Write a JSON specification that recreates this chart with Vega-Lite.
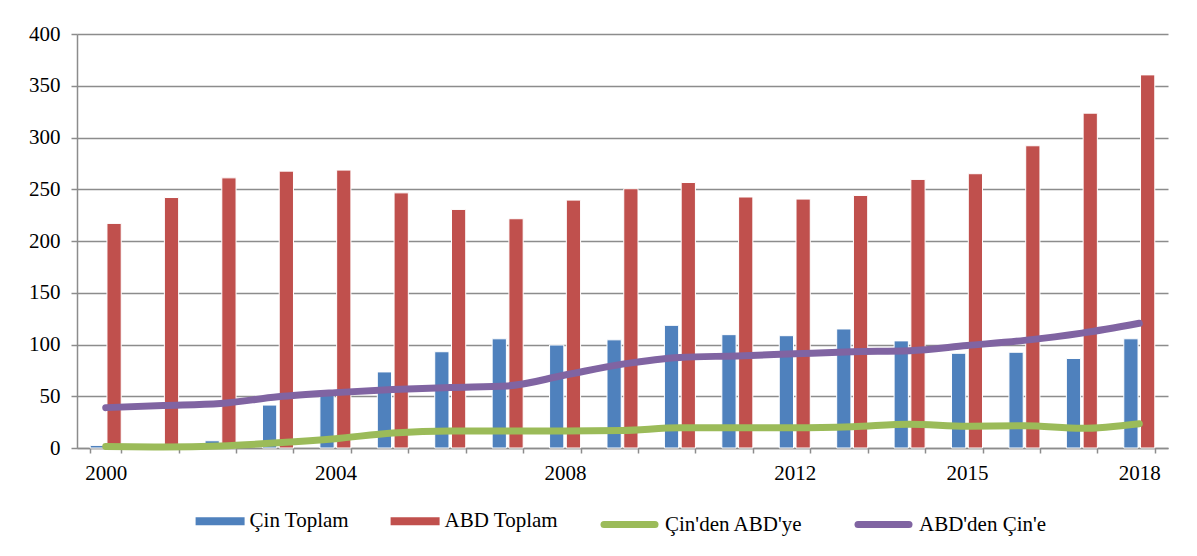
{
  "$schema": "https://vega.github.io/schema/vega-lite/v6.json",
  "autosize": "none",
  "width": 1091,
  "height": 414,
  "padding": {"left": 77, "top": 34, "right": 29, "bottom": 108},
  "background": "white",
  "config": {
    "view": {"stroke": null},
    "font": "Liberation Serif"
  },
  "datasets": {
    "bars": [
      {"year": "2000", "series": "Çin Toplam", "value": 2.5}, {"year": "2000", "series": "ABD Toplam", "value": 217},
      {"year": "2001", "series": "Çin Toplam", "value": 0.5}, {"year": "2001", "series": "ABD Toplam", "value": 242},
      {"year": "2002", "series": "Çin Toplam", "value": 7}, {"year": "2002", "series": "ABD Toplam", "value": 261},
      {"year": "2003", "series": "Çin Toplam", "value": 41.5}, {"year": "2003", "series": "ABD Toplam", "value": 267.5},
      {"year": "2004", "series": "Çin Toplam", "value": 55}, {"year": "2004", "series": "ABD Toplam", "value": 268.5},
      {"year": "2005", "series": "Çin Toplam", "value": 73.5}, {"year": "2005", "series": "ABD Toplam", "value": 246.5},
      {"year": "2006", "series": "Çin Toplam", "value": 93}, {"year": "2006", "series": "ABD Toplam", "value": 230.5},
      {"year": "2007", "series": "Çin Toplam", "value": 105.5}, {"year": "2007", "series": "ABD Toplam", "value": 221.5},
      {"year": "2008", "series": "Çin Toplam", "value": 99.5}, {"year": "2008", "series": "ABD Toplam", "value": 239.5},
      {"year": "2009", "series": "Çin Toplam", "value": 104.5}, {"year": "2009", "series": "ABD Toplam", "value": 250.5},
      {"year": "2010", "series": "Çin Toplam", "value": 118.5}, {"year": "2010", "series": "ABD Toplam", "value": 256.5},
      {"year": "2011", "series": "Çin Toplam", "value": 109.5}, {"year": "2011", "series": "ABD Toplam", "value": 242.5},
      {"year": "2012", "series": "Çin Toplam", "value": 108.5}, {"year": "2012", "series": "ABD Toplam", "value": 240.5},
      {"year": "2013", "series": "Çin Toplam", "value": 115}, {"year": "2013", "series": "ABD Toplam", "value": 244},
      {"year": "2014", "series": "Çin Toplam", "value": 103.5}, {"year": "2014", "series": "ABD Toplam", "value": 259.5},
      {"year": "2015", "series": "Çin Toplam", "value": 91.5}, {"year": "2015", "series": "ABD Toplam", "value": 265},
      {"year": "2016", "series": "Çin Toplam", "value": 92.5}, {"year": "2016", "series": "ABD Toplam", "value": 292},
      {"year": "2017", "series": "Çin Toplam", "value": 86.5}, {"year": "2017", "series": "ABD Toplam", "value": 323.5},
      {"year": "2018", "series": "Çin Toplam", "value": 105.5}, {"year": "2018", "series": "ABD Toplam", "value": 360.5}
    ],
    "lines": [
      {"year": "2000", "line": "Çin'den ABD'ye", "value": 1.5}, {"year": "2000", "line": "ABD'den Çin'e", "value": 39},
      {"year": "2001", "line": "Çin'den ABD'ye", "value": 1}, {"year": "2001", "line": "ABD'den Çin'e", "value": 41},
      {"year": "2002", "line": "Çin'den ABD'ye", "value": 2}, {"year": "2002", "line": "ABD'den Çin'e", "value": 43},
      {"year": "2003", "line": "Çin'den ABD'ye", "value": 5}, {"year": "2003", "line": "ABD'den Çin'e", "value": 49.5},
      {"year": "2004", "line": "Çin'den ABD'ye", "value": 9}, {"year": "2004", "line": "ABD'den Çin'e", "value": 53.5},
      {"year": "2005", "line": "Çin'den ABD'ye", "value": 14.5}, {"year": "2005", "line": "ABD'den Çin'e", "value": 56.5},
      {"year": "2006", "line": "Çin'den ABD'ye", "value": 16.5}, {"year": "2006", "line": "ABD'den Çin'e", "value": 58.5},
      {"year": "2007", "line": "Çin'den ABD'ye", "value": 16.5}, {"year": "2007", "line": "ABD'den Çin'e", "value": 60},
      {"year": "2008", "line": "Çin'den ABD'ye", "value": 16.5}, {"year": "2008", "line": "ABD'den Çin'e", "value": 70.5},
      {"year": "2009", "line": "Çin'den ABD'ye", "value": 17}, {"year": "2009", "line": "ABD'den Çin'e", "value": 81},
      {"year": "2010", "line": "Çin'den ABD'ye", "value": 19.5}, {"year": "2010", "line": "ABD'den Çin'e", "value": 87.5},
      {"year": "2011", "line": "Çin'den ABD'ye", "value": 19.5}, {"year": "2011", "line": "ABD'den Çin'e", "value": 89},
      {"year": "2012", "line": "Çin'den ABD'ye", "value": 19.5}, {"year": "2012", "line": "ABD'den Çin'e", "value": 91},
      {"year": "2013", "line": "Çin'den ABD'ye", "value": 20.5}, {"year": "2013", "line": "ABD'den Çin'e", "value": 93},
      {"year": "2014", "line": "Çin'den ABD'ye", "value": 23}, {"year": "2014", "line": "ABD'den Çin'e", "value": 94},
      {"year": "2015", "line": "Çin'den ABD'ye", "value": 21}, {"year": "2015", "line": "ABD'den Çin'e", "value": 99},
      {"year": "2016", "line": "Çin'den ABD'ye", "value": 21.5}, {"year": "2016", "line": "ABD'den Çin'e", "value": 104},
      {"year": "2017", "line": "Çin'den ABD'ye", "value": 19}, {"year": "2017", "line": "ABD'den Çin'e", "value": 111},
      {"year": "2018", "line": "Çin'den ABD'ye", "value": 23.5}, {"year": "2018", "line": "ABD'den Çin'e", "value": 120.5}
    ]
  },
  "encoding": {
    "x": {
      "field": "year",
      "type": "ordinal",
      "scale": {"paddingInner": 0.46, "paddingOuter": 0.23},
      "axis": {
        "title": null,
        "labelAngle": 0,
        "tickBand": "extent",
        "tickSize": 5,
        "tickColor": "#8c8c8c",
        "tickWidth": 1.5,
        "domainColor": "#8c8c8c",
        "domainWidth": 1.5,
        "labelFont": "Liberation Serif",
        "labelFontSize": 21,
        "labelColor": "black",
        "labelPadding": 9,
        "labelExpr": "indexof(['2000','2004','2008','2012','2015','2018'], datum.value) >= 0 ? datum.value : ''",
        "grid": false
      }
    },
    "y": {
      "field": "value",
      "type": "quantitative",
      "scale": {"domain": [0, 400], "nice": false},
      "axis": {
        "title": null,
        "values": [0, 50, 100, 150, 200, 250, 300, 350, 400],
        "tickSize": 6,
        "tickColor": "#8c8c8c",
        "tickWidth": 1.5,
        "domainColor": "#8c8c8c",
        "domainWidth": 1.5,
        "gridColor": "#8c8c8c",
        "gridWidth": 1.5,
        "labelFont": "Liberation Serif",
        "labelFontSize": 21,
        "labelColor": "black",
        "labelPadding": 11
      }
    }
  },
  "layer": [
    {
      "data": {"name": "bars"},
      "mark": {"type": "bar", "stroke": "white", "strokeWidth": 1},
      "encoding": {
        "xOffset": {"field": "series", "sort": ["Çin Toplam", "ABD Toplam"], "scale": {"paddingInner": 0.15}},
        "fill": {
          "field": "series",
          "type": "nominal",
          "scale": {"domain": ["Çin Toplam", "ABD Toplam"], "range": ["#4F81BD", "#C0504D"]},
          "legend": {
            "title": null,
            "orient": "none",
            "direction": "horizontal",
            "legendX": 118.6,
            "legendY": 462.5,
            "symbolType": "M-1,-0.16H1V0.16H-1Z",
            "symbolSize": 2401,
            "symbolStrokeWidth": 0,
            "labelOffset": 5,
            "columnPadding": 41,
            "labelFont": "Liberation Serif",
            "labelFontSize": 21,
            "labelColor": "black",
            "labelLimit": 400
          }
        }
      }
    },
    {
      "data": {"name": "lines"},
      "mark": {"type": "line", "interpolate": "monotone", "strokeWidth": 7, "strokeCap": "round", "strokeJoin": "round"},
      "encoding": {
        "stroke": {
          "field": "line",
          "type": "nominal",
          "scale": {"domain": ["Çin'den ABD'ye", "ABD'den Çin'e"], "range": ["#9BBB59", "#8064A2"]},
          "legend": {
            "title": null,
            "orient": "none",
            "direction": "horizontal",
            "legendX": 523.5,
            "legendY": 461.5,
            "symbolType": "stroke",
            "symbolSize": 2601,
            "symbolStrokeWidth": 7,
            "labelOffset": 6.5,
            "columnPadding": 40,
            "labelFont": "Liberation Serif",
            "labelFontSize": 21,
            "labelColor": "black",
            "labelLimit": 400,
            "encode": {"symbols": {"update": {"strokeCap": {"value": "round"}}}}
          }
        }
      }
    }
  ]
}
